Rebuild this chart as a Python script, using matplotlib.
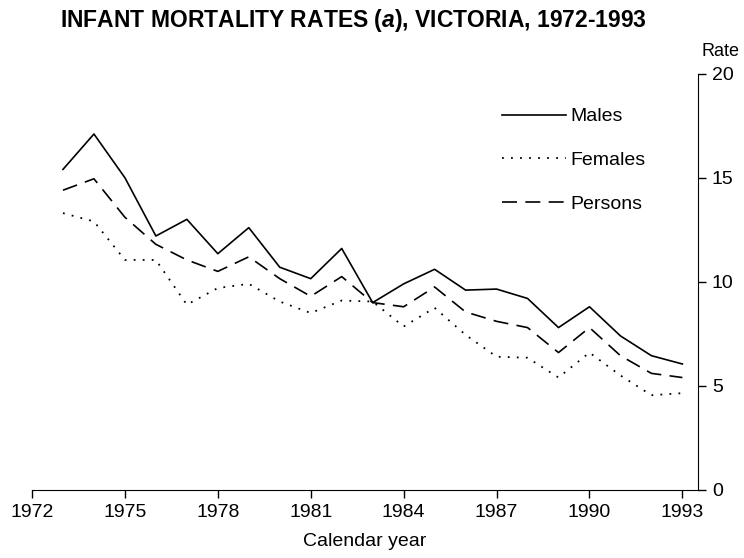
from matplotlib import pyplot as plt

plt.rcParams['font.family'] = ['Liberation Sans', 'DejaVu Sans']
plt.rcParams['mathtext.fontset'] = 'custom'
plt.rcParams['mathtext.it'] = 'Liberation Sans:italic:bold'
plt.rcParams['mathtext.rm'] = 'Liberation Sans:bold'

years = list(range(1973, 1994))
males = [15.4, 17.1, 15.0, 12.2, 13.0, 11.35, 12.6, 10.7, 10.15, 11.6, 9.0,
         9.9, 10.6, 9.6, 9.65, 9.2, 7.8, 8.8, 7.4, 6.45, 6.05]
females = [13.3, 12.9, 11.05, 11.05, 8.9, 9.7, 9.9, 9.05, 8.5, 9.1, 9.05,
           7.85, 8.75, 7.45, 6.4, 6.35, 5.4, 6.6, 5.5, 4.55, 4.65]
persons = [14.4, 14.95, 13.1, 11.8, 11.05, 10.5, 11.2, 10.15, 9.3, 10.25, 9.0,
           8.8, 9.75, 8.55, 8.1, 7.8, 6.6, 7.8, 6.45, 5.6, 5.4]
x_ticks = [1972, 1975, 1978, 1981, 1984, 1987, 1990, 1993]
y_ticks = [0, 5, 10, 15, 20]

fig = plt.figure(figsize=(7.44, 5.58), dpi=100)
ax = fig.add_axes([0.043, 0.122, 0.895, 0.746])

ax.plot(years, males, color='black', linewidth=1.2, label='Males')
ax.plot(years, females, color='black', linewidth=1.3,
        linestyle=(0, (1, 4)), label='Females')
ax.plot(years, persons, color='black', linewidth=1.2,
        linestyle=(0, (9, 5)), label='Persons')

ax.set_xlim(1972, 1993.5)
ax.set_ylim(0, 20)
ax.set_xticks(x_ticks)
ax.set_yticks(y_ticks)

ax.spines['left'].set_visible(False)
ax.spines['top'].set_visible(False)
ax.yaxis.tick_right()
ax.tick_params(axis='both', direction='out', length=6, width=1,
               labelsize=14, pad=4)

ax.legend(
    loc='upper left',
    bbox_to_anchor=(0.68, 0.96),
    frameon=False,
    fontsize=14,
    handlelength=3.3,
    handletextpad=0.2,
    labelspacing=1.35,
)

fig.text(0.475, 0.964,
         r'INFANT MORTALITY RATES $\mathit{(a)}$, VICTORIA, 1972-1993',
         ha='center', va='center', fontsize=16.5, fontweight='bold')
fig.text(0.968, 0.907, 'Rate', ha='center', va='center', fontsize=13)
fig.text(0.49, 0.03, 'Calendar year', ha='center', va='center', fontsize=14)

plt.savefig('out.png', dpi=100)
